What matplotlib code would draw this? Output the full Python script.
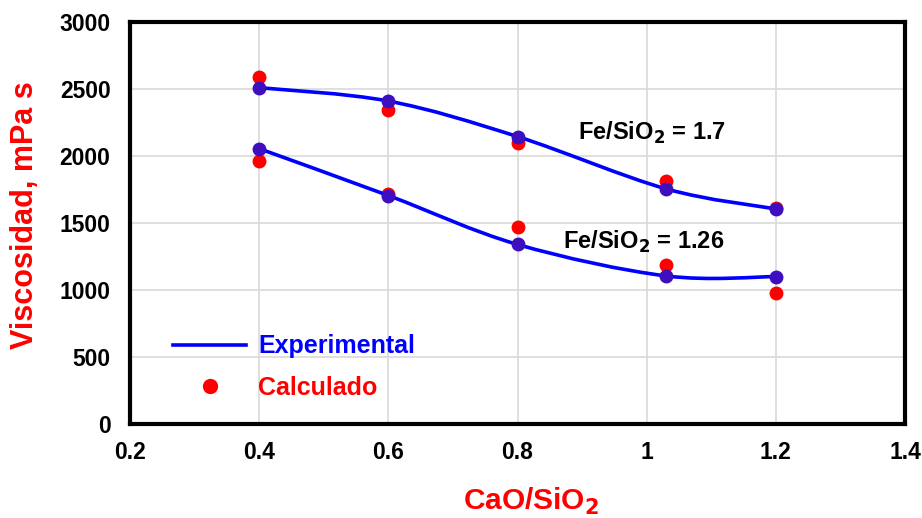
import numpy as np
import matplotlib.pyplot as plt
from matplotlib.path import Path
from matplotlib.patches import PathPatch
from matplotlib.lines import Line2D

plt.rcParams['font.family'] = 'Liberation Sans'
plt.rcParams['font.weight'] = 'bold'

# CaO/SiO2 ratios
x_exp = [0.4, 0.6, 0.8, 1.03, 1.2]

# Fe/SiO2 = 1.7
exp_17 = [2510, 2410, 2145, 1755, 1605]
calc_17 = [2590, 2340, 2095, 1810, 1610]

# Fe/SiO2 = 1.26
exp_126 = [2055, 1705, 1340, 1105, 1100]
calc_126 = [1965, 1720, 1470, 1190, 980]

xticks = [0.2, 0.4, 0.6, 0.8, 1, 1.2, 1.4]
yticks = [0, 500, 1000, 1500, 2000, 2500, 3000]


def smooth_path(xs, ys, t=1/6.):
    # Excel-like smoothed line: cubic Bezier segments through every point
    p = np.column_stack([xs, ys]).astype(float)
    n = len(p)
    verts = [p[0]]
    codes = [Path.MOVETO]
    for i in range(n - 1):
        p0 = p[i - 1] if i > 0 else p[i]
        p3 = p[i + 2] if i + 2 < n else p[i + 1]
        c1 = p[i] + (p[i + 1] - p0) * t
        c2 = p[i + 1] - (p3 - p[i]) * t
        verts += [c1, c2, p[i + 1]]
        codes += [Path.CURVE4] * 3
    return Path(verts, codes)


fig = plt.figure(figsize=(9.22, 5.18), dpi=100)
ax = fig.add_axes([130/922, 1 - 424/518, 775/922, 402/518])

for ys in (exp_17, exp_126):
    ax.add_patch(PathPatch(smooth_path(x_exp, ys), fill=False, edgecolor='#0000ff',
                           lw=2.6, zorder=3))

ax.plot(x_exp, calc_17, 'o', color='#ff0000', ms=9, zorder=2)
ax.plot(x_exp, calc_126, 'o', color='#ff0000', ms=9, zorder=2)
ax.plot(x_exp, exp_17, 'o', color='#3d0fbf', ms=9, zorder=4)
ax.plot(x_exp, exp_126, 'o', color='#3d0fbf', ms=9, zorder=4)

ax.text(0.893, 2170, 'Fe/SiO$_\\mathbf{2}$ = 1.7', fontsize=17, fontweight='bold', ha='left', va='center')
ax.text(0.870, 1360, 'Fe/SiO$_\\mathbf{2}$ = 1.26', fontsize=17, fontweight='bold', ha='left', va='center')

ax.set_xlim(0.2, 1.4)
ax.set_ylim(0, 3000)
ax.set_xticks(xticks)
ax.set_xticklabels(['0.2', '0.4', '0.6', '0.8', '1', '1.2', '1.4'])
ax.set_yticks(yticks)
ax.tick_params(length=0, labelsize=16.5)
ax.tick_params(axis='x', pad=12)
ax.tick_params(axis='y', pad=14)
for lab in ax.get_xticklabels() + ax.get_yticklabels():
    lab.set_fontweight('bold')
ax.grid(True, color='#d9d9d9', lw=1.2)
ax.set_axisbelow(True)
for s in ax.spines.values():
    s.set_linewidth(3)
    s.set_color('black')

ax.set_xlabel('CaO/SiO$_\\mathbf{2}$', color='#ff0000', fontsize=21.5, fontweight='bold')
ax.set_ylabel('Viscosidad, mPa s', color='#ff0000', fontsize=22, fontweight='bold')
ax.xaxis.set_label_coords(0.517, -0.154)
ax.yaxis.set_label_coords(-0.116, 0.52)

handles = [Line2D([], [], color='#0000ff', lw=2.6),
           Line2D([], [], ls='', marker='o', color='#ff0000', ms=10)]
leg = ax.legend(handles, ['Experimental', 'Calculado'], loc='lower left',
                bbox_to_anchor=(0.027, 0.004), frameon=False, fontsize=18,
                handlelength=2.9, handletextpad=0.5, labelspacing=0.7)
leg.get_texts()[0].set_color('#0000ff')
leg.get_texts()[1].set_color('#ff0000')

fig.savefig('out.png', dpi=100)
